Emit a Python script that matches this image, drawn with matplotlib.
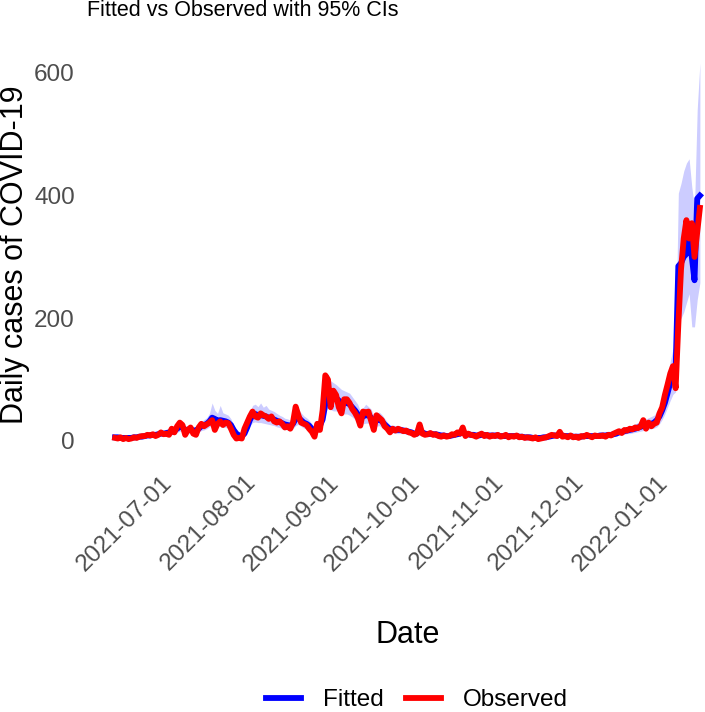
#!/usr/bin/env python3
import matplotlib
matplotlib.use("Agg")
import matplotlib.pyplot as plt
import matplotlib.dates as mdates
import numpy as np
import pandas as pd

# daily series, 2021-06-14 .. 2022-01-17
start_date = "2021-06-14"

observed = [
    5, 4, 6, 3, 5, 3, 4, 6, 5, 7,
    8, 8, 10, 9, 11, 8, 10, 14, 11, 12,
    10, 20, 14, 24, 30, 26, 10, 18, 22, 12,
    10, 22, 28, 24, 27, 30, 34, 18, 28, 32,
    26, 30, 29, 20, 10, 4, 5, 4, 20, 30,
    40, 48, 40, 38, 45, 42, 40, 36, 40, 32,
    30, 32, 28, 22, 24, 20, 30, 56, 42, 30,
    28, 26, 20, 15, 7, 28, 18, 50, 107, 100,
    55, 82, 75, 55, 45, 68, 68, 62, 52, 46,
    38, 25, 48, 46, 48, 33, 18, 42, 38, 34,
    24, 20, 14, 20, 17, 20, 18, 16, 17, 14,
    13, 10, 12, 27, 12, 10, 11, 13, 10, 11,
    8, 7, 9, 7, 8, 11, 10, 14, 12, 22,
    8, 12, 10, 9, 7, 10, 12, 8, 10, 7,
    9, 8, 10, 7, 8, 10, 6, 8, 7, 9,
    6, 7, 5, 6, 5, 4, 6, 3, 4, 5,
    6, 8, 10, 9, 8, 15, 7, 8, 6, 9,
    6, 7, 5, 8, 7, 10, 8, 6, 9, 8,
    8, 9, 7, 10, 9, 12, 14, 16, 13, 18,
    17, 20, 19, 22, 21, 24, 34, 20, 30, 24,
    28, 30, 45, 55, 75, 92, 110, 122, 86, 190,
    280, 330, 360, 330, 355, 300, 340, 380,
]

fitted = [
    6, 6, 5, 5, 5, 5, 5, 6, 6, 7,
    7, 8, 9, 9, 10, 10, 11, 12, 12, 13,
    14, 15, 17, 20, 23, 22, 18, 18, 19, 17,
    17, 20, 24, 26, 28, 32, 38, 36, 33, 34,
    33, 32, 30, 26, 18, 12, 9, 8, 12, 22,
    34, 42, 44, 42, 42, 41, 40, 38, 37, 35,
    33, 31, 29, 27, 26, 25, 28, 36, 38, 34,
    30, 28, 25, 20, 16, 20, 25, 35, 60, 82,
    72, 70, 70, 66, 62, 62, 62, 60, 55, 50,
    44, 36, 40, 42, 42, 38, 30, 34, 35, 32,
    27, 23, 19, 19, 18, 18, 18, 17, 16, 15,
    14, 12, 12, 16, 14, 12, 11, 12, 11, 11,
    10, 9, 9, 8, 8, 9, 10, 11, 12, 15,
    12, 11, 10, 10, 9, 9, 10, 10, 9, 9,
    9, 9, 9, 8, 8, 8, 8, 8, 8, 8,
    7, 7, 6, 6, 6, 5, 5, 5, 5, 6,
    6, 7, 8, 9, 9, 10, 9, 8, 8, 8,
    7, 7, 7, 7, 8, 8, 8, 8, 8, 8,
    9, 9, 9, 10, 10, 11, 12, 14, 15, 16,
    17, 18, 19, 20, 22, 23, 25, 26, 27, 28,
    30, 34, 40, 50, 62, 78, 95, 110, 118, 285,
    290, 300, 305, 350, 300, 262, 395, 400,
]

upper = [
    9, 9, 8, 8, 8, 8, 8, 9, 9, 10,
    10, 11, 12, 12, 14, 14, 15, 16, 16, 17,
    19, 20, 23, 27, 31, 30, 25, 25, 26, 23,
    23, 27, 32, 35, 38, 45, 62, 50, 45, 58,
    46, 44, 42, 36, 26, 18, 14, 13, 18, 30,
    46, 58, 60, 56, 62, 55, 58, 52, 50, 48,
    45, 42, 40, 37, 36, 34, 38, 48, 52, 46,
    41, 38, 34, 28, 22, 28, 34, 48, 82, 110,
    98, 95, 92, 88, 84, 82, 80, 78, 72, 66,
    60, 49, 54, 60, 56, 52, 41, 46, 47, 43,
    37, 31, 26, 26, 25, 25, 24, 23, 22, 21,
    19, 17, 17, 22, 19, 17, 15, 17, 15, 15,
    14, 13, 13, 11, 11, 13, 14, 15, 17, 21,
    17, 15, 14, 14, 13, 13, 14, 14, 13, 13,
    13, 13, 13, 11, 11, 11, 11, 11, 11, 11,
    10, 10, 9, 9, 9, 8, 8, 8, 8, 9,
    9, 10, 11, 13, 13, 14, 13, 11, 11, 11,
    10, 10, 10, 10, 11, 11, 11, 11, 11, 11,
    13, 13, 13, 14, 14, 15, 17, 19, 21, 22,
    24, 25, 26, 28, 30, 32, 35, 36, 38, 40,
    42, 48, 56, 70, 86, 108, 130, 150, 160, 404,
    420, 440, 453, 460, 414, 380, 540, 616,
]

lower = [
    3, 3, 3, 3, 3, 3, 3, 3, 3, 4,
    4, 5, 6, 6, 7, 7, 7, 8, 8, 9,
    10, 10, 12, 14, 16, 15, 12, 12, 13, 12,
    12, 14, 17, 18, 20, 23, 26, 25, 23, 24,
    23, 22, 21, 18, 12, 8, 6, 5, 8, 15,
    24, 30, 31, 30, 30, 29, 28, 27, 26, 25,
    23, 22, 20, 19, 18, 17, 20, 25, 27, 24,
    21, 20, 17, 14, 11, 14, 17, 25, 42, 58,
    51, 49, 49, 46, 44, 44, 44, 42, 39, 35,
    31, 25, 28, 29, 29, 27, 21, 24, 25, 22,
    19, 16, 13, 13, 12, 12, 12, 12, 11, 10,
    10, 8, 8, 11, 10, 8, 7, 8, 7, 7,
    7, 6, 6, 5, 5, 6, 7, 7, 8, 10,
    8, 7, 7, 7, 6, 6, 7, 7, 6, 6,
    6, 6, 6, 5, 5, 5, 5, 5, 5, 5,
    5, 5, 4, 4, 4, 3, 3, 3, 3, 4,
    4, 5, 5, 6, 6, 7, 6, 5, 5, 5,
    5, 5, 5, 5, 5, 5, 5, 5, 5, 5,
    6, 6, 6, 7, 7, 7, 8, 10, 10, 11,
    12, 12, 13, 14, 15, 16, 17, 18, 19, 20,
    21, 23, 28, 35, 44, 55, 66, 76, 80, 200,
    200, 210, 225, 240, 186, 186, 230, 258,
]

y_ticks = [0, 200, 400, 600]
x_ticks = ["2021-07-01", "2021-08-01", "2021-09-01", "2021-10-01",
           "2021-11-01", "2021-12-01", "2022-01-01"]

dates = pd.date_range(start_date, periods=len(observed), freq="D")

plt.rcParams["font.family"] = ["Liberation Sans", "DejaVu Sans"]

W, H = 705, 712
fig = plt.figure(figsize=(W / 100, H / 100), dpi=100)
# panel runs past the right edge like in the reference
ax = fig.add_axes([86 / W, 1 - 470 / H, (729 - 86) / W, (470 - 40) / H])

ax.fill_between(dates, lower, upper, color="blue", alpha=0.2, linewidth=0)
ax.plot(dates, fitted, color="blue", linewidth=4.2, label="Fitted",
        solid_joinstyle="round")
ax.plot(dates, observed, color="red", linewidth=4.2, label="Observed",
        solid_joinstyle="round")

t0 = pd.Timestamp(start_date)
ax.set_xlim(t0 - pd.Timedelta(days=10.8), t0 + pd.Timedelta(days=227.8))
ax.set_ylim(-47.3, 653.6)

ax.set_yticks(y_ticks)
ax.set_xticks(pd.to_datetime(x_ticks))
ax.xaxis.set_major_formatter(mdates.DateFormatter("%Y-%m-%d"))
ax.tick_params(axis="both", length=0, labelsize=17.5, colors="#4D4D4D")
ax.tick_params(axis="x", pad=1)
ax.tick_params(axis="y", pad=8)
for lab in ax.get_xticklabels():
    lab.set_rotation(45)
    lab.set_ha("right")
    lab.set_rotation_mode("anchor")

for s in ax.spines.values():
    s.set_visible(False)

ax.set_ylabel("Daily cases of COVID-19", fontsize=22)
ax.yaxis.set_label_coords((30 - 86) / (729 - 86), 0.5)
ax.set_xlabel("Date", fontsize=22)
ax.xaxis.set_label_coords(0.5, (470 - 620) / (470 - 40))

fig.text(87 / W, 1 - 11 / H, "Fitted vs Observed with 95% CIs",
         fontsize=15.5, ha="left", va="center")

handles, labels = ax.get_legend_handles_labels()
fig.legend(handles, labels, loc="center", bbox_to_anchor=(417 / W, 1 - 700 / H),
           ncol=2, frameon=False, fontsize=17.5, handlelength=1.45,
           handletextpad=0.9, columnspacing=0.9)

fig.savefig("out.png", dpi=100)
